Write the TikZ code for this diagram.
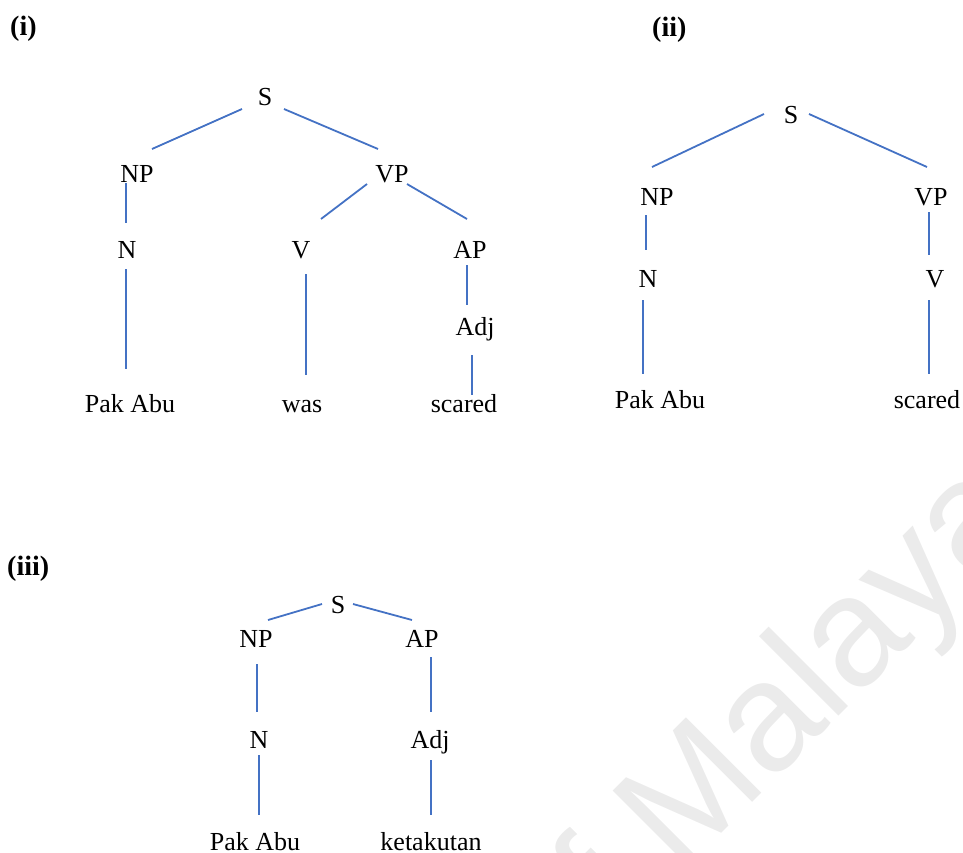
\documentclass[tikz,border=0pt]{standalone}
\usepackage{fontspec}
\setmainfont{Liberation Serif}
\newfontfamily\wmfont{Liberation Sans}
\definecolor{branchblue}{RGB}{68,114,196}
\definecolor{wmgray}{RGB}{235,235,235}
\begin{document}
\begin{tikzpicture}[x=1pt,y=-1pt,
  cat/.style={anchor=base, inner sep=0pt, font=\fontsize{26}{31}\selectfont},
  tag/.style={anchor=base west, inner sep=0pt, font=\fontsize{28}{33}\selectfont\bfseries},
  branch/.style={draw=branchblue, line width=1.8pt}]
\useasboundingbox (0,0) rectangle (963,852);

% faint diagonal watermark
\begin{scope}
  \clip (0,0) rectangle (963,852);
  \node[anchor=base west, inner sep=0pt, rotate=45, text=wmgray,
        font=\fontsize{155}{160}\selectfont\wmfont] (wm) at (679,876)
        {\llap{of }Malaya};
\end{scope}

% ---------------- tree (i)
\node[tag] (t1) at (10,35) {(i)};
\node[cat] (s1)   at (265,105) {S};
\node[cat] (np1)  at (137,182) {NP};
\node[cat] (vp1)  at (392,182) {VP};
\node[cat] (n1)   at (127,258) {N};
\node[cat] (v1)   at (301,258) {V};
\node[cat] (ap1)  at (470,258) {AP};
\node[cat] (adj1) at (475,335) {Adj};
\node[cat] (w1a)  at (130,412) {Pak Abu};
\node[cat] (w1b)  at (302,412) {was};
\node[cat] (w1c)  at (464,412) {scared};

\draw[branch] ([shift={(-23,4)}]s1.base)  -- ([shift={(15,-33)}]np1.base);
\draw[branch] ([shift={(19,4)}]s1.base)   -- ([shift={(-14,-33)}]vp1.base);
\draw[branch] ([shift={(-11,1)}]np1.base) -- ([shift={(-1,-35)}]n1.base);
\draw[branch] ([shift={(-25,2)}]vp1.base) -- ([shift={(20,-39)}]v1.base);
\draw[branch] ([shift={(15,2)}]vp1.base)  -- ([shift={(-3,-39)}]ap1.base);
\draw[branch] ([shift={(-1,11)}]n1.base)  -- ([shift={(-4,-43)}]w1a.base);
\draw[branch] ([shift={(5,16)}]v1.base)   -- ([shift={(4,-37)}]w1b.base);
\draw[branch] ([shift={(-3,7)}]ap1.base)  -- ([shift={(-8,-30)}]adj1.base);
\draw[branch] ([shift={(-3,20)}]adj1.base) -- ([shift={(8,-17)}]w1c.base);

% ---------------- tree (ii)
\node[tag] (t2) at (652,36) {(ii)};
\node[cat] (s2)  at (791,123) {S};
\node[cat] (np2) at (657,205) {NP};
\node[cat] (vp2) at (931,205) {VP};
\node[cat] (n2)  at (648,287) {N};
\node[cat] (v2)  at (935,287) {V};
\node[cat] (w2a) at (660,408) {Pak Abu};
\node[cat] (w2b) at (927,408) {scared};

\draw[branch] ([shift={(-27,-9)}]s2.base) -- ([shift={(-5,-38)}]np2.base);
\draw[branch] ([shift={(18,-9)}]s2.base)  -- ([shift={(-4,-38)}]vp2.base);
\draw[branch] ([shift={(-11,10)}]np2.base) -- ([shift={(-2,-37)}]n2.base);
\draw[branch] ([shift={(-2,7)}]vp2.base)  -- ([shift={(-6,-32)}]v2.base);
\draw[branch] ([shift={(-5,13)}]n2.base)  -- ([shift={(-17,-34)}]w2a.base);
\draw[branch] ([shift={(-6,13)}]v2.base)  -- ([shift={(2,-34)}]w2b.base);

% ---------------- tree (iii)
\node[tag] (t3) at (7,575) {(iii)};
\node[cat] (s3)   at (338,613) {S};
\node[cat] (np3)  at (256,647) {NP};
\node[cat] (ap3)  at (422,647) {AP};
\node[cat] (n3)   at (259,748) {N};
\node[cat] (adj3) at (430,748) {Adj};
\node[cat] (w3a)  at (255,850) {Pak Abu};
\node[cat] (w3b)  at (431,850) {ketakutan};

\draw[branch] ([shift={(-16,-9)}]s3.base) -- ([shift={(12,-27)}]np3.base);
\draw[branch] ([shift={(15,-9)}]s3.base)  -- ([shift={(-10,-27)}]ap3.base);
\draw[branch] ([shift={(1,17)}]np3.base)  -- ([shift={(-2,-36)}]n3.base);
\draw[branch] ([shift={(9,10)}]ap3.base)  -- ([shift={(1,-36)}]adj3.base);
\draw[branch] ([shift={(0,7)}]n3.base)    -- ([shift={(4,-35)}]w3a.base);
\draw[branch] ([shift={(1,12)}]adj3.base) -- ([shift={(0,-35)}]w3b.base);
\end{tikzpicture}
\end{document}
